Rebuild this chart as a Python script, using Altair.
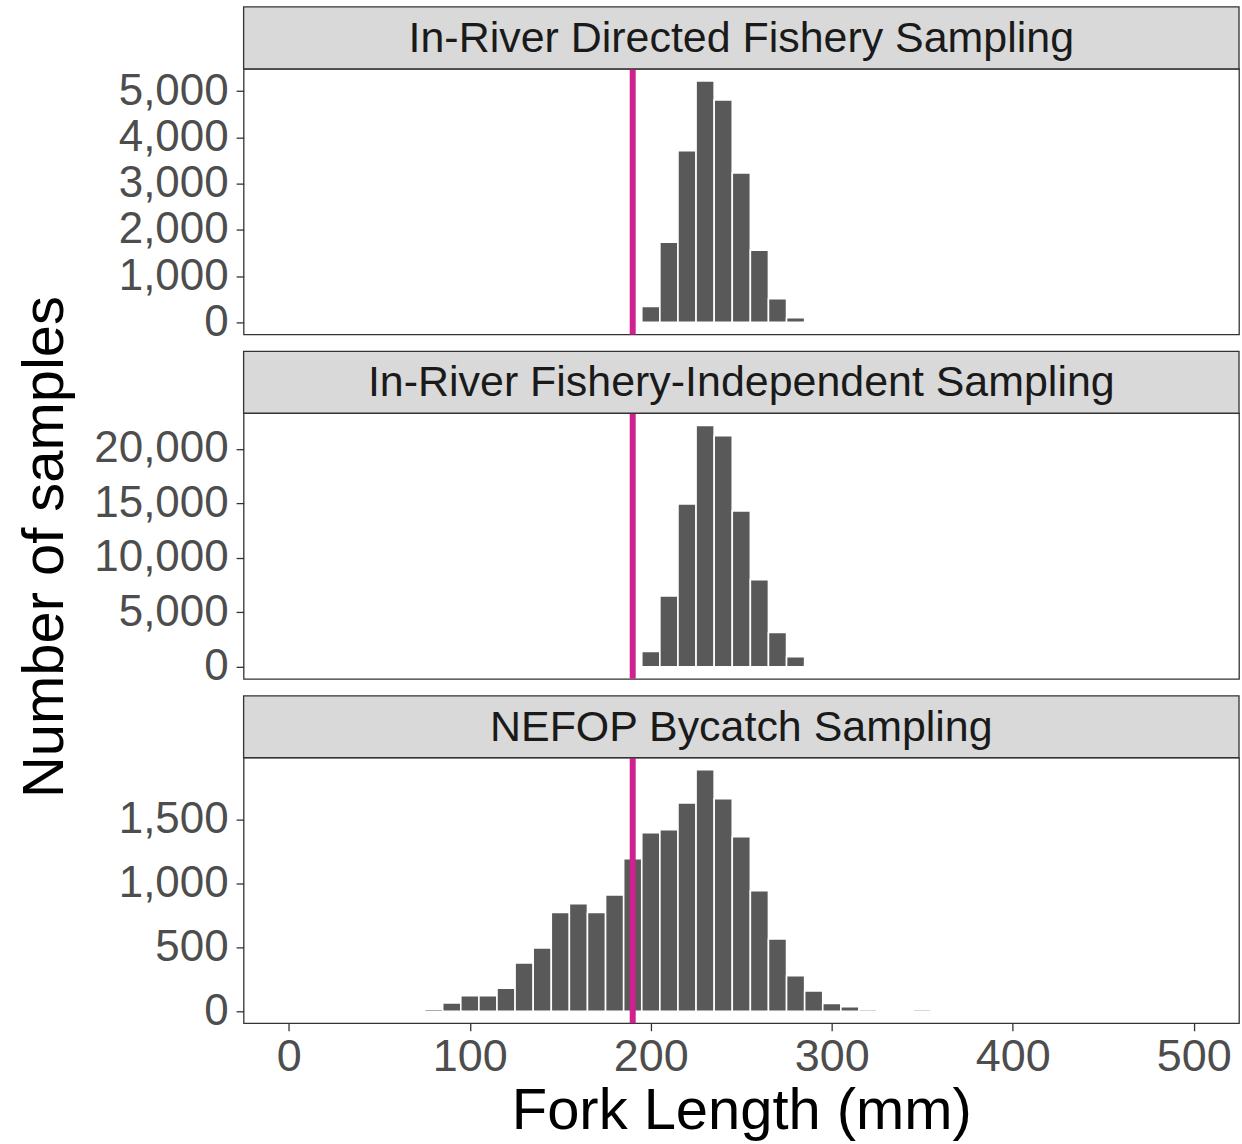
import altair as alt
import pandas as pd

# Bin centres (fork length, mm; bin width 10 mm)
BINS = [40, 50, 60, 70, 80, 90, 100, 110, 120, 130, 140, 150, 160, 170, 180,
        190, 200, 210, 220, 230, 240, 250, 260, 270, 280, 290, 300, 310, 320,
        330, 340, 350, 360, 370, 380, 390, 400, 410, 420, 430, 440, 450, 460,
        470, 480]

PANEL_TITLES = ["In-River Directed Fishery Sampling",
                "In-River Fishery-Independent Sampling",
                "NEFOP Bycatch Sampling"]

COUNTS_DIRECTED = [0, 0, 0, 0, 0, 0, 0, 0, 0, 0, 0, 0, 0, 0, 1,
                   20, 345, 1730, 3710, 5220, 4810, 3230, 1560, 510, 100, 4, 0, 0, 0,
                   1, 1, 1, 0, 0, 0, 0, 0, 0, 0, 0, 0, 0, 0,
                   0, 0]

COUNTS_INDEPENDENT = [0, 0, 2, 0, 2, 3, 2, 2, 3, 2, 2, 2, 0, 3, 20,
                      130, 1400, 6490, 14940, 22150, 21190, 14300, 7990, 3140, 915, 150, 10, 0, 0,
                      0, 0, 0, 0, 0, 0, 0, 0, 0, 0, 0, 0, 0, 0,
                      0, 0]

COUNTS_NEFOP = [1, 2, 1, 8, 16, 65, 122, 122, 179, 378, 495, 772, 842, 772, 909,
                1194, 1396, 1420, 1630, 1889, 1663, 1365, 943, 565, 277, 158, 60, 36, 13,
                10, 10, 13, 8, 5, 1, 2, 0, 5, 10, 8, 6, 6, 1,
                1, 1]

Y_TICKS = [[0, 1000, 2000, 3000, 4000, 5000],
           [0, 5000, 10000, 15000, 20000],
           [0, 500, 1000, 1500]]

X_TICKS = [0, 100, 200, 300, 400, 500]
X_DOMAIN = [-25, 525]
THRESHOLD = [190]

FONT = "Liberation Sans"
W = 997
H = 266
STRIP_H = 62


def panel(title, counts, yticks, bottom, ylabel=False):
    df = pd.DataFrame({"fl": BINS, "n": counts})
    ymax = max(counts)
    yscale = alt.Scale(domain=[-0.05 * ymax, 1.05 * ymax], nice=False, zero=False)
    xscale = alt.Scale(domain=X_DOMAIN, nice=False, zero=False)
    if bottom:
        xaxis = alt.Axis(values=X_TICKS, title="Fork Length (mm)", grid=False,
                         domain=False, labelFontSize=45, labelColor="#4D4D4D",
                         labelFont=FONT, titleFont=FONT, titleFontSize=58,
                         titleFontWeight="normal", titleColor="black",
                         tickColor="#333333", tickSize=7.5, tickWidth=1.3,
                         labelPadding=4, titlePadding=3)
    else:
        xaxis = None

    bars = alt.Chart(df).transform_calculate(
        lo="datum.fl - 5", hi="datum.fl + 5"
    ).mark_rect(fill="#595959", stroke="white", strokeWidth=1.6).encode(
        x=alt.X("lo:Q", scale=xscale, axis=xaxis),
        x2="hi:Q",
        y=alt.Y("n:Q", scale=yscale,
                axis=alt.Axis(values=yticks, format=",d", title=None, grid=False,
                              domain=False, labelFontSize=44, labelColor="#4D4D4D",
                              labelFont=FONT, tickColor="#333333", tickSize=7.5,
                              tickWidth=1.3, labelPadding=8)),
        y2=alt.datum(0),
    )

    rule = alt.Chart(pd.DataFrame({"x": THRESHOLD})).mark_rule(
        color="#D0228F", strokeWidth=6
    ).encode(x=alt.X("x:Q", scale=xscale, axis=xaxis))

    tdf = pd.DataFrame({"t": [title]})
    strip_rect = alt.Chart(tdf).mark_rect(
        fill="#D9D9D9", stroke="#333333", strokeWidth=1.3
    ).encode(x=alt.value(0), x2=alt.value(W), y=alt.value(-STRIP_H), y2=alt.value(0))
    strip_text = alt.Chart(tdf).mark_text(
        font=FONT, fontSize=43, color="#1A1A1A", baseline="middle", align="center"
    ).encode(text="t:N", x=alt.value(W / 2), y=alt.value(-STRIP_H / 2 + 1))

    layers = [bars, rule, strip_rect, strip_text]
    if ylabel:
        ydf = pd.DataFrame({"t": ["Number of samples"]})
        ytitle = alt.Chart(ydf).mark_text(
            font=FONT, fontSize=58, color="black", angle=270,
            baseline="middle", align="center"
        ).encode(text="t:N", x=alt.value(-198), y=alt.value(134))
        layers.append(ytitle)

    return alt.layer(*layers).properties(width=W, height=H)


p1 = panel(PANEL_TITLES[0], COUNTS_DIRECTED, Y_TICKS[0], False)
p2 = panel(PANEL_TITLES[1], COUNTS_INDEPENDENT, Y_TICKS[1], False, ylabel=True)
p3 = panel(PANEL_TITLES[2], COUNTS_NEFOP, Y_TICKS[2], True)

chart = alt.vconcat(p1, p2, p3, spacing=STRIP_H + 17, bounds="flush").properties(
    padding={"left": 16, "top": 4, "right": 1, "bottom": 0}
).configure(
    background="white"
).configure_view(
    stroke="#333333", strokeWidth=1.3
)

chart.save("out.html", embed_options={"renderer": "svg", "actions": False})
